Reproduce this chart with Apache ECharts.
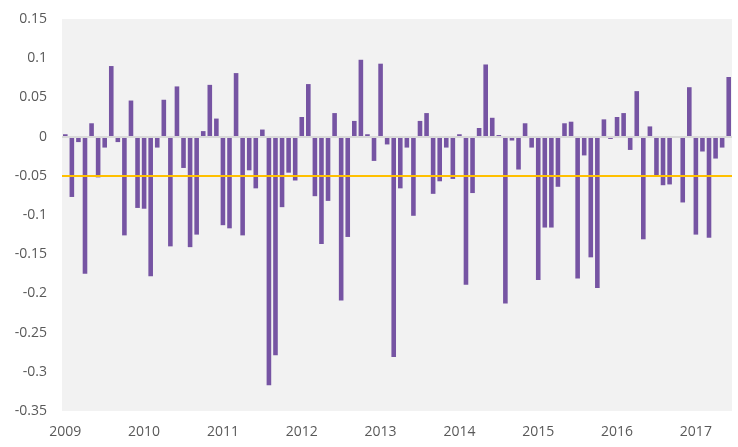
<!DOCTYPE html>
<html>
<head>
<meta charset="utf-8">
<script src="https://cdn.jsdelivr.net/npm/echarts@6/dist/echarts.min.js"></script>
<style>
html,body{margin:0;padding:0;background:#fff;}
#chart{width:738px;height:447px;}
</style>
</head>
<body>
<div id="chart"></div>
<script>
// Monthly values, Jan 2009 .. Jun 2017
const years = [2009, 2010, 2011, 2012, 2013, 2014, 2015, 2016, 2017];
const values = [
  // 2009
  0.003, -0.077, -0.007, -0.175, 0.017, -0.052, -0.014, 0.090, -0.007, -0.126, 0.046, -0.091,
  // 2010
  -0.092, -0.178, -0.014, 0.047, -0.140, 0.064, -0.040, -0.141, -0.125, 0.007, 0.066, 0.023,
  // 2011
  -0.113, -0.117, 0.081, -0.126, -0.043, -0.066, 0.009, -0.317, -0.279, -0.090, -0.046, -0.056,
  // 2012
  0.025, 0.067, -0.076, -0.137, -0.082, 0.030, -0.209, -0.128, 0.020, 0.098, 0.003, -0.031,
  // 2013
  0.093, -0.010, -0.281, -0.066, -0.014, -0.101, 0.020, 0.030, -0.073, -0.057, -0.014, -0.054,
  // 2014
  0.003, -0.189, -0.072, 0.011, 0.092, 0.024, 0.002, -0.213, -0.005, -0.042, 0.017, -0.014,
  // 2015
  -0.183, -0.116, -0.116, -0.064, 0.017, 0.019, -0.181, -0.024, -0.154, -0.193, 0.022, -0.003,
  // 2016
  0.025, 0.030, -0.017, 0.058, -0.131, 0.013, -0.049, -0.062, -0.061, -0.001, -0.084, 0.063,
  // 2017
  -0.125, -0.019, -0.129, -0.028, -0.014, 0.076
];
const referenceLevel = -0.049;
const yTicks = { min: -0.35, max: 0.15, interval: 0.05 };

const categories = [];
for (let i = 0; i < values.length; i++) {
  const y = years[0] + Math.floor(i / 12);
  const m = (i % 12) + 1;
  categories.push(y + '-' + (m < 10 ? '0' + m : m));
}

const font = '"Open Sans", "Noto Sans", sans-serif';
const chart = echarts.init(document.getElementById('chart'), null, { renderer: 'canvas' });
chart.setOption({
  animation: false,
  grid: {
    left: 62, right: 6, top: 19, bottom: 36,
    show: true, backgroundColor: '#F2F2F2', borderWidth: 0
  },
  xAxis: {
    type: 'category',
    data: categories,
    position: 'bottom',
    axisLine: { show: false, onZero: false },
    axisTick: { show: false },
    axisLabel: {
      color: '#595959', fontSize: 14, fontFamily: font, margin: 14,
      interval: function (idx) { return idx % 12 === 0; },
      formatter: function (v) { return v.slice(0, 4); }
    },
    splitLine: { show: false }
  },
  yAxis: {
    type: 'value',
    min: yTicks.min, max: yTicks.max, interval: yTicks.interval,
    axisLine: { show: false },
    axisTick: { show: false },
    splitLine: { show: false },
    axisLabel: {
      color: '#595959', fontSize: 14, fontFamily: font, margin: 15,
      formatter: function (v) { return String(parseFloat(v.toFixed(2))); }
    }
  },
  series: [{
    type: 'line',
    data: [],
    markLine: {
      symbol: 'none',
      silent: true,
      label: { show: false },
      lineStyle: { color: '#D9D9D9', width: 2, type: 'solid' },
      data: [{ yAxis: 0 }]
    },
    z: 1
  }, {
    type: 'bar',
    data: values,
    barCategoryGap: '30%',
    itemStyle: { color: '#7654A3' },
    z: 3,
    markLine: {
      symbol: 'none',
      silent: true,
      label: { show: false },
      lineStyle: { color: '#FFC000', width: 2, type: 'solid' },
      data: [{ yAxis: referenceLevel }]
    }
  }]
});
</script>
</body>
</html>
